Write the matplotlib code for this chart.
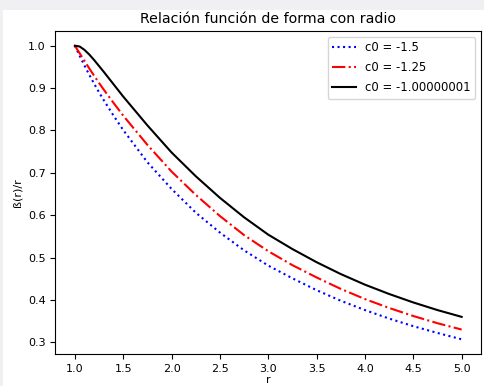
import numpy as np
import matplotlib
matplotlib.use('Agg')
import matplotlib.pyplot as plt
from matplotlib.patches import Rectangle

# values
r = [1.0, 1.05, 1.1, 1.15, 1.2, 1.25, 1.3, 1.4, 1.5, 1.75, 2.0, 2.25, 2.5, 2.75,
     3.0, 3.25, 3.5, 3.75, 4.0, 4.25, 4.5, 4.75, 5.0]
b_c15 = [1.000, 0.976, 0.953, 0.931, 0.910, 0.890, 0.871, 0.835, 0.801, 0.725, 0.662, 0.606,
         0.559, 0.517, 0.481, 0.451, 0.423, 0.398, 0.376, 0.356, 0.338, 0.322, 0.307]
b_c125 = [1.000, 0.982, 0.964, 0.946, 0.929, 0.912, 0.896, 0.865, 0.835, 0.766, 0.703, 0.648,
          0.598, 0.553, 0.515, 0.482, 0.453, 0.426, 0.402, 0.381, 0.362, 0.345, 0.330]
b_c1 = [1.000, 0.998, 0.990, 0.979, 0.966, 0.952, 0.938, 0.909, 0.880, 0.812, 0.748, 0.692,
        0.641, 0.595, 0.554, 0.520, 0.489, 0.461, 0.436, 0.414, 0.394, 0.376, 0.360]
labels = ['c0 = -1.5', 'c0 = -1.25', 'c0 = -1.00000001']

fig = plt.figure(figsize=(4.85, 3.86), dpi=100)
fig.patch.set_facecolor('#f0f0f3')
# white page area (the reference has a thin grey margin on top and left)
fig.patches.append(Rectangle((3 / 485, 0), 1, 1 - 10 / 386, transform=fig.transFigure,
                             facecolor='white', edgecolor='none', zorder=-1))

ax = fig.add_axes([55.5 / 485, 32 / 386, 425.5 / 485, 323 / 386])
ax.plot(r, b_c15, ':', color='blue', label=labels[0])
ax.plot(r, b_c125, '-.', color='red', label=labels[1])
ax.plot(r, b_c1, '-', color='black', label=labels[2])

ax.set_title('Relación función de forma con radio', fontsize=10.2)
ax.set_xlabel('r', fontsize=8, labelpad=1)
ax.set_ylabel('ß(r)/r', fontsize=8)
ax.tick_params(labelsize=8)
ax.set_xticks(np.arange(1.0, 5.01, 0.5))
ax.legend(loc='upper right', fontsize=8.4, labelspacing=0.6)

plt.savefig('out.png', dpi=100, facecolor=fig.get_facecolor())
